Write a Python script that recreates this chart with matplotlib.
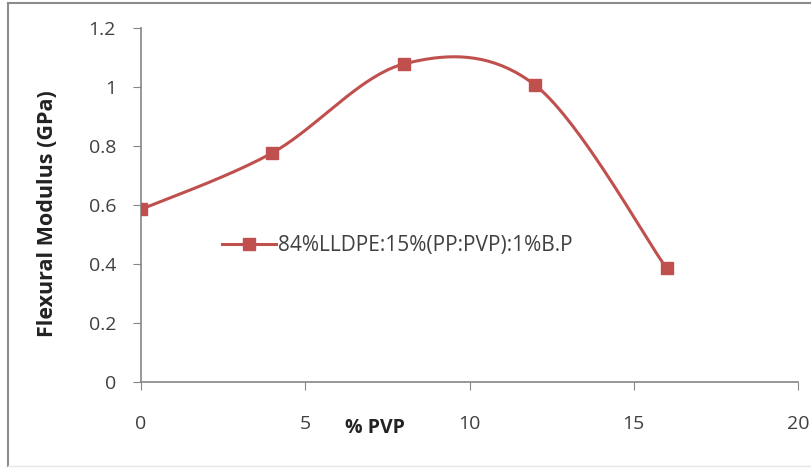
import numpy as np
import matplotlib.pyplot as plt

# data
pvp = [0, 4, 8, 12, 16]
modulus = [0.585, 0.777, 1.078, 1.006, 0.385]
series_name = "84%LLDPE:15%(PP:PVP):1%B.P"


def excel_smooth(x, y, n=40):
    # Excel-like smoothed line: cubic bezier with control points from neighbours
    x = np.asarray(x, float)
    y = np.asarray(y, float)
    xs, ys = [], []
    for i in range(len(x) - 1):
        i0 = max(i - 1, 0)
        i3 = min(i + 2, len(x) - 1)
        p0 = np.array([x[i], y[i]])
        p3 = np.array([x[i + 1], y[i + 1]])
        c1 = p0 + (np.array([x[i + 1], y[i + 1]]) - np.array([x[i0], y[i0]])) / 6
        c2 = p3 - (np.array([x[i3], y[i3]]) - np.array([x[i], y[i]])) / 6
        t = np.linspace(0, 1, n)[:, None]
        b = ((1 - t) ** 3) * p0 + 3 * ((1 - t) ** 2) * t * c1 + 3 * (1 - t) * t ** 2 * c2 + t ** 3 * p3
        xs.extend(b[:, 0])
        ys.extend(b[:, 1])
    return np.array(xs), np.array(ys)


plt.rcParams['font.family'] = ['Open Sans', 'DejaVu Sans']
red = '#C0504D'
grey_txt = '#404040'
axis_col = '#868686'

fig = plt.figure(figsize=(8.12, 4.69), dpi=100)
ax = fig.add_axes([141 / 812, 1 - 382 / 469, 657 / 812, 354 / 469])

# outer chart frame (dark top/left, faint bottom)
fig.add_artist(plt.Line2D([8 / 812, 8 / 812], [3 / 469, 1 - 3 / 469], transform=fig.transFigure,
                          color='#8c8c8c', linewidth=1.5))
fig.add_artist(plt.Line2D([8 / 812, 1], [1 - 3 / 469, 1 - 3 / 469], transform=fig.transFigure,
                          color='#8c8c8c', linewidth=1.5))
fig.add_artist(plt.Line2D([8 / 812, 1], [3 / 469, 3 / 469], transform=fig.transFigure,
                          color='#e6e6e6', linewidth=1.0))

sx, sy = excel_smooth(pvp, modulus)
ax.plot(sx, sy, color=red, linewidth=2.2, zorder=3)
ax.plot(pvp, modulus, linestyle='none', marker='s', markersize=8, color=red, zorder=4)
# legend proxy
ax.plot([], [], color=red, linewidth=2.2, marker='s', markersize=8, label=series_name)

ax.set_xlim(0, 20)
ax.set_ylim(0, 1.2)
ax.set_xticks([0, 5, 10, 15, 20])
ax.set_yticks([0, 0.2, 0.4, 0.6, 0.8, 1.0, 1.2])
ax.set_yticklabels(['0', '0.2', '0.4', '0.6', '0.8', '1', '1.2'])

for s in ['top', 'right']:
    ax.spines[s].set_visible(False)
for s in ['left', 'bottom']:
    ax.spines[s].set_color(axis_col)
    ax.spines[s].set_linewidth(1.2)
ax.tick_params(axis='x', direction='out', length=6, color=axis_col, pad=18, labelsize=14, labelcolor=grey_txt)
ax.tick_params(axis='y', direction='out', length=6, color=axis_col, pad=12, labelsize=14, labelcolor=grey_txt)

ax.set_ylabel('Flexural Modulus (GPa)', fontsize=15.5, fontweight='bold', color='#222222', labelpad=12)
ax.yaxis.set_label_coords(-0.127, 0.477)
ax.text(0.31, -0.13, '% PVP', transform=ax.transAxes, fontsize=14, fontweight='bold',
        color='#222222', ha='left', va='center')

leg = ax.legend(loc='center left', bbox_to_anchor=(0.095, 0.385), frameon=False, fontsize=15,
                handlelength=2.6, handletextpad=0.1, labelcolor=grey_txt)

fig.savefig('out.png', dpi=100)
